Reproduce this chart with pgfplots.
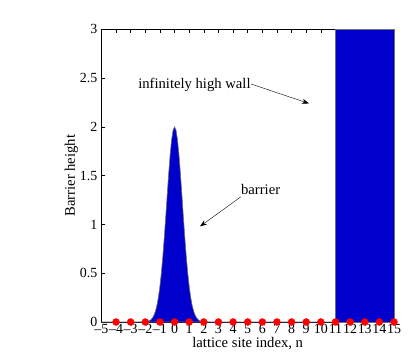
\documentclass[border=0pt]{standalone}
\usepackage{fontspec}
\setmainfont{Liberation Serif}
\usepackage{pgfplots}
\pgfplotsset{compat=1.18}
\usetikzlibrary{arrows.meta}
\definecolor{wallblue}{RGB}{0,0,205}
\definecolor{edgegray}{RGB}{110,110,110}
\begin{document}
\begin{tikzpicture}
\useasboundingbox (-101.4bp,-35bp) rectangle (313.6bp,322bp);
\begin{axis}[
  at={(0,0)}, anchor=south west,
  scale only axis, width=292.6bp, height=292.7bp,
  xmin=-5, xmax=15, ymin=0, ymax=3,
  xtick={-5,-4,...,15},
  xticklabels={–5,–4,–3,–2,–1,0,1,2,3,4,5,6,7,8,9,10,11,12,13,14,15},
  ytick={0,0.5,1,1.5,2,2.5,3},
  yticklabels={0,0.5,1,1.5,2,2.5,3},
  tick align=inside, major tick length=3.5bp,
  tick style={black, line width=0.5pt},
  axis line style={line width=0.5pt},
  tick label style={font=\fontsize{14}{16}\selectfont},
  /pgf/number format/assume math mode=true,
  xticklabel style={inner xsep=0pt, yshift=1.5bp},
  yticklabel style={xshift=-0.5bp},
  label style={font=\fontsize{14.7}{17}\selectfont},
  xlabel={lattice site index, n},
  ylabel={Barrier height},
  xlabel style={yshift=3bp},
  ylabel style={yshift=-5bp},
  clip=false,
]
\addplot[fill=wallblue, draw=edgegray, line width=0.6pt] coordinates {(11,0) (11,3) (15,3) (15,0)} \closedcycle;
\addplot[fill=wallblue, draw=edgegray, line width=0.6pt] coordinates {
(-5,0) (-2.5,0) (-2.2,0.0005) (-2.0,0.0022) (-1.9,0.0043) (-1.8,0.0081) (-1.7,0.0147) (-1.6,0.0258)
(-1.5,0.0436) (-1.4,0.0715) (-1.3,0.1130) (-1.2,0.1729) (-1.1,0.2557) (-1.0,0.3654) (-0.9,0.5047)
(-0.8,0.6738) (-0.7,0.8695) (-0.6,1.0845) (-0.5,1.3075) (-0.4,1.5237) (-0.3,1.7163) (-0.2,1.8685)
(-0.1,1.9663) (0,2) (0.1,1.9663) (0.2,1.8685) (0.3,1.7163) (0.4,1.5237) (0.5,1.3075) (0.6,1.0845)
(0.7,0.8695) (0.8,0.6738) (0.9,0.5047) (1.0,0.3654) (1.1,0.2557) (1.2,0.1729) (1.3,0.1130)
(1.4,0.0715) (1.5,0.0436) (1.6,0.0258) (1.7,0.0147) (1.8,0.0081) (1.9,0.0043) (2.0,0.0022)
(2.2,0.0005) (2.5,0) (11,0)
} \closedcycle;
\addplot[only marks, mark=*, mark size=3.5bp, color=red, mark options={draw=red, fill=red}] coordinates {
(-4,0) (-3,0) (-2,0) (-1,0) (0,0) (1,0) (2,0) (3,0) (4,0) (5,0) (6,0) (7,0) (8,0) (9,0) (10,0)
(11,0) (12,0) (13,0) (14,0) (15,0)};
\draw[-{Stealth[length=7bp,width=5bp]}, line width=0.4pt] (axis cs:5.21,2.44) -- (axis cs:9.19,2.24);
\draw[-{Stealth[length=7bp,width=5bp]}, line width=0.4pt] (axis cs:4.54,1.284) -- (axis cs:1.74,0.98);
\node[font=\fontsize{14.7}{17}\selectfont, anchor=east, inner sep=0pt] at (axis cs:5.21,2.43) {infinitely high wall};
\node[font=\fontsize{14.7}{17}\selectfont, anchor=west, inner sep=0pt] at (axis cs:4.54,1.36) {barrier};
\end{axis}
\end{tikzpicture}
\end{document}
